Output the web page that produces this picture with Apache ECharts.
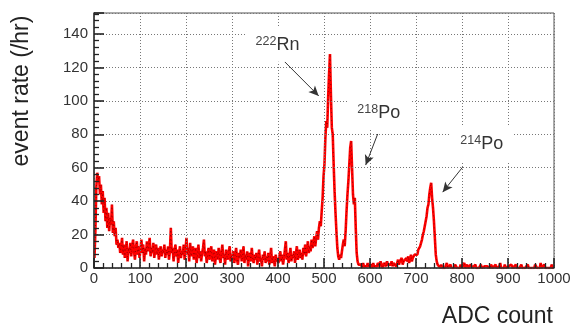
<!DOCTYPE html>
<html><head><meta charset="utf-8">
<script src="https://cdn.jsdelivr.net/npm/echarts@6/dist/echarts.min.js"></script>
<style>html,body{margin:0;padding:0;background:#fff}#c{width:588px;height:329px}</style>
</head><body><div id="c"></div><script>
// ADC bin width (counts) and event rate (/hr) per bin, split by 100 ADC counts
const binWidth = 2;
const rate000 = [6,22,48,57,52,55,44,50,38,46,33,42,28,36,24,33,22,30,26,38,21,28,19,24,14,
                 17,12,15,9,13,18,8,14,6,11,16,4,12,9,15,7,13,17,10,5,12,16,8,13,6];
const rate100 = [11,17,9,14,4,12,8,16,10,13,18,7,12,9,15,6,11,14,8,12,5,10,13,7,11,
                 9,14,6,11,8,13,5,10,24,9,12,4,10,14,7,11,3,9,13,6,10,8,14,5,11];
const rate200 = [18,8,12,4,15,7,10,13,5,9,12,3,8,14,6,10,4,9,12,17,7,10,3,8,12,
                 5,9,13,4,8,11,2,7,10,5,12,6,3,9,14,6,8,2,11,7,5,10,13,4,8];
const rate300 = [6,10,3,8,12,5,2,9,6,11,4,7,13,3,8,5,10,1,7,9,4,12,6,3,8,
                 5,9,2,7,11,4,6,1,8,5,10,3,7,4,9,2,6,12,3,7,5,1,8,4,6];
const rate400 = [3,7,10,4,8,2,6,11,16,5,9,3,7,12,4,8,6,10,3,9,13,5,8,11,6,
                 9,5,12,8,14,7,11,16,9,13,10,17,12,15,19,13,18,22,17,24,28,25,34,42,55];
const rate500 = [62,78,88,84,102,116,128,104,84,80,62,46,33,22,12,7,5,8,6,10,14,17,13,22,34,
                 44,52,62,72,76,60,44,38,42,24,9,4,2,3,1,2,0,3,1,2,0,1,3,1,2];
const rate600 = [1,2,0,3,1,2,0,1,3,2,1,4,2,0,1,3,2,1,4,2,1,3,2,4,1,
                 3,2,4,1,3,5,2,4,3,6,2,4,5,3,6,4,7,3,5,8,4,6,5,8,7];
const rate700 = [9,8,11,10,13,15,17,20,22,25,28,31,36,38,44,48,51,42,36,28,18,8,4,2,1,
                 1,0,2,0,1,0,0,1,3,0,1,0,2,0,0,1,0,2,1,0,0,1,0,2,0];
const rate800 = [1,0,3,0,1,2,0,1,0,2,1,0,1,0,2,0,1,0,0,1,2,0,1,0,1,
                 0,2,1,0,1,0,2,1,0,0,1,2,0,1,0,1,3,0,1,0,0,2,0,1,0];
const rate900 = [1,0,0,2,1,0,1,0,2,0,1,1,0,0,2,0,1,0,0,1,0,2,0,1,0,
                 0,1,0,0,2,1,0,0,1,0,3,0,1,0,2,0,1,0,0,1,0,0,2,0,0];

// Annotations (isotope labels) in data coordinates
const isotopes = ['222', '218', '214'];
const elements = ['Rn', 'Po', 'Po'];
const labelAt  = [[399, 133.6], [619, 92.8], [843, 74.2]];
const arrowFrom = [[414.6, 123.4], [616.7, 80.2], [801.5, 60.4]];
const arrowTo   = [[488.5, 103.0], [590.6, 61.6], [758.0, 45.4]];

const rate = [].concat(rate000, rate100, rate200, rate300, rate400,
                       rate500, rate600, rate700, rate800, rate900);
const seriesData = rate.map((v, i) => [i * binWidth + binWidth / 2, v]);

const FONT = '"Liberation Sans", Arial, sans-serif';
const chart = echarts.init(document.getElementById('c'), null, {renderer: 'canvas'});

const axisCommon = {
  axisLine: {show: true, onZero: false, lineStyle: {color: '#333', width: 1.5}},
  axisTick: {show: true, inside: true, length: 10, lineStyle: {color: '#222', width: 1.6}},
  minorTick: {show: true, splitNumber: 5, length: 5, lineStyle: {color: '#222', width: 1.3}},
  splitLine: {show: true, lineStyle: {color: '#777', width: 1, type: [1, 2]}},
  axisLabel: {fontSize: 15, color: '#333', fontFamily: FONT}
};

chart.setOption({
  animation: false,
  grid: {left: 94, right: 34, top: 13, bottom: 61, show: true, borderColor: '#555', borderWidth: 1, containLabel: false},
  xAxis: Object.assign({}, axisCommon, {
    type: 'value', min: 0, max: 1000, interval: 100, z: 5,
    axisLabel: Object.assign({}, axisCommon.axisLabel, {margin: 3, formatter: v => String(v)})
  }),
  yAxis: Object.assign({}, axisCommon, {
    type: 'value', min: 0, max: 152.6, interval: 20, z: 5,
    axisLabel: Object.assign({}, axisCommon.axisLabel, {margin: 6,
      formatter: v => (Math.abs(v % 20) < 1e-6 ? String(v) : '')})
  }),
  graphic: [
    {type: 'text', x: 22, y: 91, rotation: Math.PI / 2,
     style: {text: 'event rate (/hr)', fontSize: 23, fontFamily: FONT, fill: '#222',
             align: 'center', verticalAlign: 'middle'}},
    {type: 'text', x: 553, y: 317,
     style: {text: 'ADC count', fontSize: 23, fontFamily: FONT, fill: '#222',
             align: 'right', verticalAlign: 'middle'}}
  ],
  series: [
    {
      type: 'line', data: seriesData, showSymbol: false, symbol: 'none', z: 2,
      lineStyle: {color: '#f00', width: 2.6},
      markPoint: {
        silent: true, symbol: 'rect', symbolSize: [63, 34],
        itemStyle: {color: '#fff'},
        label: {show: true, position: 'inside', color: '#333',
          rich: {
            sup: {fontSize: 12.5, fontFamily: FONT, color: '#444', lineHeight: 14, verticalAlign: 'top'},
            el: {fontSize: 18, fontFamily: FONT, color: '#333', lineHeight: 20}
          }},
        data: isotopes.map((iso, i) => ({
          coord: labelAt[i],
          label: {formatter: '{sup|' + iso + '}{el|' + elements[i] + '}'}
        }))
      },
      markLine: {
        silent: true, symbol: ['none', 'arrow'], symbolSize: [7, 10],
        label: {show: false},
        lineStyle: {color: '#333', width: 1, type: 'solid'},
        data: arrowFrom.map((f, i) => [{coord: f}, {coord: arrowTo[i]}])
      }
    },
    {
      type: 'line', data: seriesData, showSymbol: false, symbol: 'none', z: 3, silent: true,
      lineStyle: {color: '#000', width: 0.8, type: [1, 3], opacity: 0.5}
    }
  ]
});
</script></body></html>
